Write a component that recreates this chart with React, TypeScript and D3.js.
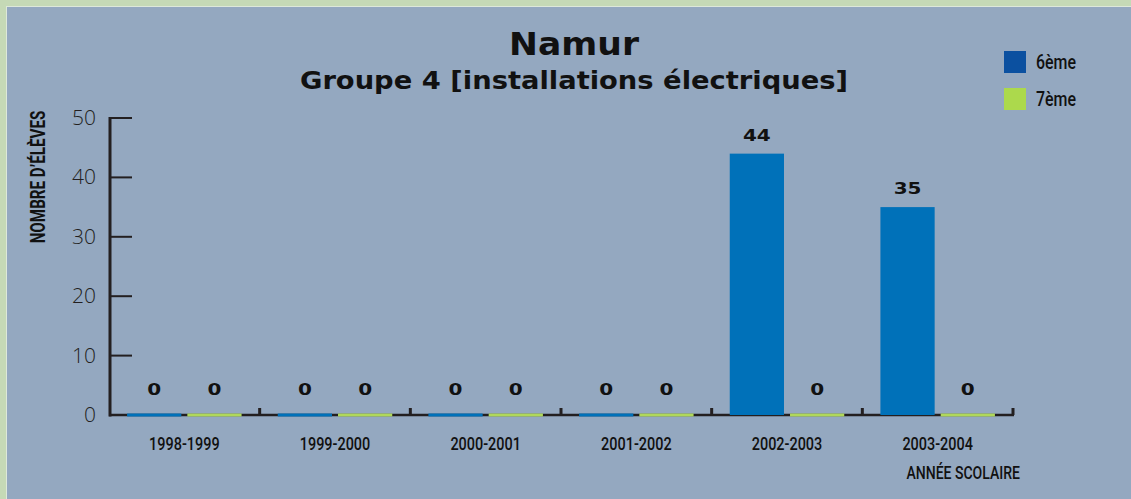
import React from "react";
import * as d3 from "d3";

const years = ["1998-1999", "1999-2000", "2000-2001", "2001-2002", "2002-2003", "2003-2004"];
const series = ["6ème", "7ème"];
const sixieme = [0, 0, 0, 0, 44, 35];
const septieme = [0, 0, 0, 0, 0, 0];
const yTicks = [0, 10, 20, 30, 40, 50];

const barColors = ["#0071b9", "#b0d85a"];
const legendColors = ["#0b50a0", "#acd94c"];
const ink = "#231f20";
const narrow = "Roboto, 'DejaVu Sans', sans-serif";
const wide = "'DejaVu Sans', sans-serif";

// text squeezed / stretched horizontally around its anchor
function Txt({ x, y, sx = 1, rot = 0, anchor = "middle", family, size, weight = "normal", children }: any) {
  return (
    <g transform={`translate(${x},${y}) rotate(${rot}) scale(${sx},1)`}>
      <text x={0} y={0} textAnchor={anchor} fontFamily={family} fontSize={size} fontWeight={weight} fill="#111">
        {children}
      </text>
    </g>
  );
}

export default function App() {
  const W = 1131;
  const H = 499;

  const y = d3.scaleLinear().domain([0, 50]).range([415, 118]);
  const x0 = d3.scaleBand<string>().domain(years).range([109, 1013]);
  const x1 = d3.scaleBand<string>()
    .domain(series)
    .range([0, x0.bandwidth()])
    .paddingInner(0.1)
    .paddingOuter(0.3);

  const values = [sixieme, septieme];

  return (
    <svg width={W} height={H} style={{ position: "absolute", left: 0, top: 0, display: "block" }}>
      <rect x={0} y={0} width={W} height={H} fill="#c5d9b6" />
      <rect x={6} y={6} width={W - 6} height={H - 6} fill="#dde8da" />
      <rect x={7} y={7} width={W - 7} height={H - 7} fill="#94a8c0" />

      <Txt x={574} y={55} sx={1.08} family={wide} weight="bold" size={32}>Namur</Txt>
      <Txt x={574} y={89} sx={1.14} family={wide} weight="bold" size={24}>
        Groupe 4 [installations électriques]
      </Txt>

      {/* legend */}
      {series.map((s, i) => (
        <g key={s} transform={`translate(1004, ${51 + i * 37})`}>
          <rect width={22} height={22} fill={legendColors[i]} />
          <Txt x={32} y={18} sx={0.76} anchor="start" family={narrow} weight={500} size={21}>{s}</Txt>
        </g>
      ))}

      {/* y axis */}
      <Txt x={45} y={177} rot={-90} sx={0.76} family={narrow} weight="bold" size={20}>
        NOMBRE D’ÉLÈVES
      </Txt>
      <line x1={110} x2={110} y1={y(50) - 1} y2={y(0) + 1.5} stroke={ink} strokeWidth={3} />
      {yTicks.map((t) => (
        <g key={t}>
          <line x1={110} x2={132} y1={y(t)} y2={y(t)} stroke={ink} strokeWidth={2} />
          <text x={96} y={y(t) + 7} textAnchor="end" fontFamily="'Open Sans', sans-serif" fontWeight={300} fontSize={21} fill={ink}>
            {t}
          </text>
        </g>
      ))}

      {/* x axis */}
      <line x1={109} x2={1014} y1={y(0)} y2={y(0)} stroke={ink} strokeWidth={2.5} />
      {years.map((yr) => (
        <line key={yr} x1={(x0(yr) as number) + x0.bandwidth()} x2={(x0(yr) as number) + x0.bandwidth()} y1={y(0) - 7} y2={y(0)} stroke={ink} strokeWidth={3} />
      ))}

      {/* bars */}
      {years.map((yr, gi) => (
        <g key={yr} transform={`translate(${x0(yr)},0)`}>
          {series.map((s, si) => {
            const v = values[si][gi];
            const top = v > 0 ? y(v) : y(0) - 1.5;
            const bottom = y(0) + (v > 0 ? 0 : 1.5);
            return (
              <g key={s}>
                <rect x={x1(s)} y={top} width={x1.bandwidth()} height={bottom - top} fill={barColors[si]} />
                <Txt
                  x={(x1(s) as number) + x1.bandwidth() / 2}
                  y={v > 0 ? y(v) - 13 : y(0) - 20}
                  sx={1.25}
                  family={wide}
                  weight="bold"
                  size={16}
                >
                  {v}
                </Txt>
              </g>
            );
          })}
          <Txt x={x0.bandwidth() / 2} y={450} sx={0.76} family={narrow} weight={500} size={19}>
            {yr}
          </Txt>
        </g>
      ))}

      <Txt x={1020} y={479} sx={0.78} anchor="end" family={narrow} weight={500} size={18}>
        ANNÉE SCOLAIRE
      </Txt>
    </svg>
  );
}
